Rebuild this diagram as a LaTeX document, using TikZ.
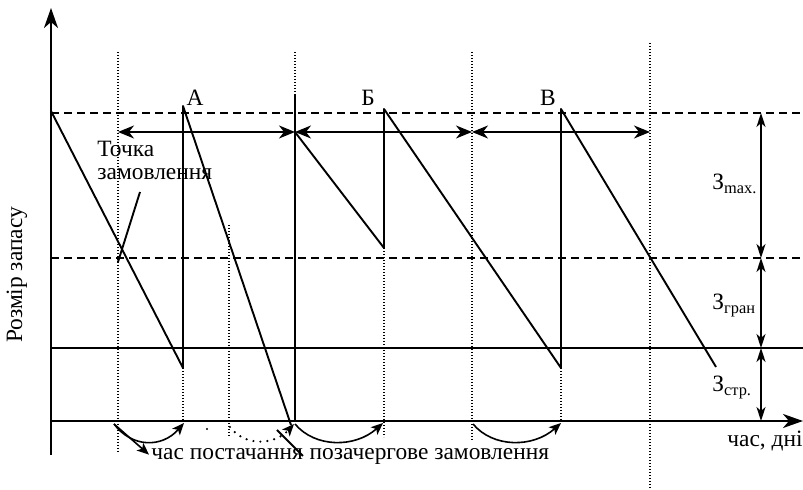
\documentclass[tikz,border=0pt,11pt]{standalone}
\usepackage{fontspec}
\setmainfont{Liberation Serif}
\usetikzlibrary{arrows.meta}
\usetikzlibrary{positioning}

\begin{document}
\begin{tikzpicture}[x=0.5pt,y=-0.5pt,font=\fontsize{11.7pt}{13pt}\selectfont,
  axis/.style={line width=1.1pt,-{Stealth[length=10pt,width=7pt,inset=3pt]}},
  level/.style={line width=0.9pt,dash pattern=on 4pt off 2.5pt},
  guide/.style={line width=0.6pt,dash pattern=on 0.6pt off 0.9pt},
  stock/.style={line width=0.95pt,line join=round},
  span/.style={line width=0.8pt,{Stealth[length=8pt,width=6.5pt,inset=2.5pt]}-{Stealth[length=8pt,width=6.5pt,inset=2.5pt]}},
  zspan/.style={line width=0.8pt,{Stealth[length=7pt,width=4.5pt,inset=2pt]}-{Stealth[length=7pt,width=4.5pt,inset=2pt]}},
  lead/.style={line width=0.8pt,-{Stealth[length=6pt,width=5pt,inset=1.5pt]}},
  dotarc/.style={line width=1.2pt,line cap=round,dash pattern=on 0pt off 3.5pt,-{Stealth[length=6pt,width=5pt,inset=1.5pt]}}]
\useasboundingbox (0,0) rectangle (803,490);
\draw[level] (51,113) -- (803,113);
\draw[level] (51,258) -- (803,258);
\draw[stock] (51,348) -- (803,348);
\draw[axis] (51,455) -- (51,8);
\draw[axis] (51,421) -- (803,421);

\draw[guide] (118,52) -- (118,452);
\draw[guide] (295,52) -- (295,95);
\draw[guide] (472,52) -- (472,440);
\draw[guide] (650,43) -- (650,488);
\draw[guide] (229,225) -- (229,437);
\draw[guide] (183,368) -- (183,421);
\draw[guide] (384,248) -- (384,437);
\draw[guide] (561,368) -- (561,421);

\draw[stock] (51,111) -- (183,368) -- (183,106) -- (291,425);
\draw[stock] (295,421) -- (295,95);
\draw[stock] (295,132) -- (384,248) -- (384,109) -- (561,368) -- (561,109) -- (716,367);

\node (peakA) at (195,98) {А};
\node (peakB) at (368,98) {Б};
\node (peakV) at (548,98) {В};
\node[align=left,anchor=west,inner sep=1pt] (order) at (95,160) {Точка\\[-1.5pt]замовлення};
\coordinate (ordertop) at (140,192);
\coordinate (orderpt) at (118,262);
\draw[stock] (ordertop) -- (orderpt);

\draw[span] (118,132) -- (295,132);
\draw[span] (295,132) -- (472,132);
\draw[span] (472,132) -- (650,132);
\draw[zspan] (761,113) -- (761,258);
\draw[zspan] (761,258) -- (761,348);
\draw[zspan] (761,348) -- (761,421);
\node[anchor=base west,inner sep=0pt] (zmax) at (712,190) {З\textsubscript{max.}};
\node[anchor=base west,inner sep=0pt] (zgran) at (712,310) {З\textsubscript{гран}};
\node[anchor=base west,inner sep=0pt] (zstr) at (712,392) {З\textsubscript{стр.}};
\node (timelabel) at (765,441) {час, дні};
\node[rotate=90] (stocklabel) at (17,275) {Розмір запасу};

\coordinate (arcA) at (114,424);
\draw[lead] (arcA) .. controls (132,448) and (162,448) .. (184,423);
\draw[dotarc] (230,427) .. controls (245,447) and (275,445) .. (294,424);
\draw[lead] (295,424) .. controls (315,448) and (355,448) .. (383,423);
\draw[lead] (473,424) .. controls (493,448) and (533,448) .. (561,423);
\fill (207,429) circle (0.6pt);

\node[anchor=base west,inner sep=1pt] (supply) at (149,460) {час постачання};
\node[base right=1pt of supply,inner sep=1pt] (extra) {позачергове замовлення};
\draw[lead] (arcA) -- (supply.west);
\coordinate (extratop) at (277,430);
\coordinate (extrapt) at (303,456);
\draw[stock] (extratop) -- (extrapt);
\end{tikzpicture}
\end{document}
